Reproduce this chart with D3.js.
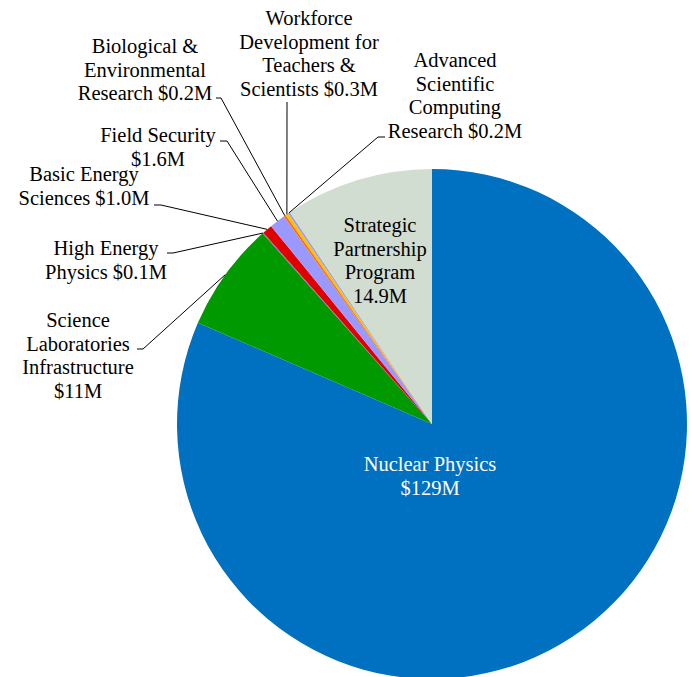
<!DOCTYPE html>
<html>
<head>
<meta charset="utf-8">
<script src="https://cdn.jsdelivr.net/npm/d3@7"></script>
<style>
  body { margin: 0; background: #fff; }
</style>
</head>
<body>
<svg width="691" height="677"></svg>
<script>
// data
var names = ["Nuclear Physics", "Science Laboratories Infrastructure", "High Energy Physics",
  "Basic Energy Sciences", "Field Security", "Biological & Environmental Research",
  "Workforce Development for Teachers & Scientists", "Advanced Scientific Computing Research",
  "Strategic Partnership Program"];
var values = [129, 11, 0.1, 1.0, 1.6, 0.2, 0.3, 0.2, 14.9];
var labels = [
  ["Nuclear Physics", "$129M"],
  ["Science", "Laboratories", "Infrastructure", "$11M"],
  ["High Energy", "Physics $0.1M"],
  ["Basic Energy", "Sciences $1.0M"],
  ["Field Security", "$1.6M"],
  ["Biological &", "Environmental", "Research $0.2M"],
  ["Workforce", "Development for", "Teachers &", "Scientists $0.3M"],
  ["Advanced", "Scientific", "Computing", "Research $0.2M"],
  ["Strategic", "Partnership", "Program", "14.9M"]
];
var colors = ["#0070C0", "#009900", "#8E5FC8", "#E00000", "#9999FF", "#FF6A00", "#FFC000", "#9B9BEF", "#D2DDD2"];

// label layout: text centre x, first line y, inside?, elbow x,y (label side of the leader)
var labelPos = [
  {x: 430, y: 471, inside: true, fill: "#fff"},
  {x: 78, y: 327, elbow: [137, 349], tick: 6},
  {x: 106, y: 255, elbow: [167, 253], tick: 6},
  {x: 84, y: 181, elbow: [154, 205], tick: 7},
  {x: 158, y: 142, elbow: [220, 141], tick: 7},
  {x: 145, y: 53, elbow: [216, 98], tick: 5},
  {x: 309, y: 25, vertical: true, elbow: [287, 102]},
  {x: 455, y: 67, elbow: [385, 137], tick: -7},
  {x: 380, y: 232, inside: true, fill: "#000"}
];

var svg = d3.select("svg");
var cx = 432, cy = 424, radius = 255, lineH = 23.5;

var pie = d3.pie().sort(null).value(function(d) { return d; });
var arc = d3.arc().innerRadius(0).outerRadius(radius);
var arcs = pie(values);

var g = svg.append("g").attr("transform", "translate(" + cx + "," + cy + ")");

g.selectAll("path.slice")
  .data(arcs)
  .enter().append("path")
    .attr("class", "slice")
    .attr("d", arc)
    .attr("fill", function(d, i) { return colors[i]; });

// leader lines
arcs.forEach(function(d, i) {
  var p = labelPos[i];
  if (p.inside) return;
  var mid = (d.startAngle + d.endAngle) / 2;
  var ex = radius * Math.sin(mid), ey = -radius * Math.cos(mid);
  var pts = [];
  var bx = p.elbow[0] - cx, by = p.elbow[1] - cy;
  if (p.vertical) {
    pts = [[bx, by], [ex, ey]];
  } else {
    pts = [[bx, by], [bx + p.tick, by], [ex, ey]];
  }
  g.append("path")
    .attr("d", d3.line()(pts))
    .attr("fill", "none")
    .attr("stroke", "#000")
    .attr("stroke-width", 1);
});

// labels
labels.forEach(function(lines, i) {
  var p = labelPos[i];
  var t = svg.append("text")
    .attr("text-anchor", "middle")
    .style("font-family", "Liberation Serif")
    .style("font-size", "20.5px")
    .attr("fill", p.fill || "#000");
  lines.forEach(function(s, j) {
    t.append("tspan")
      .attr("x", p.x)
      .attr("y", p.y + j * lineH)
      .text(s);
  });
});
</script>
</body>
</html>
